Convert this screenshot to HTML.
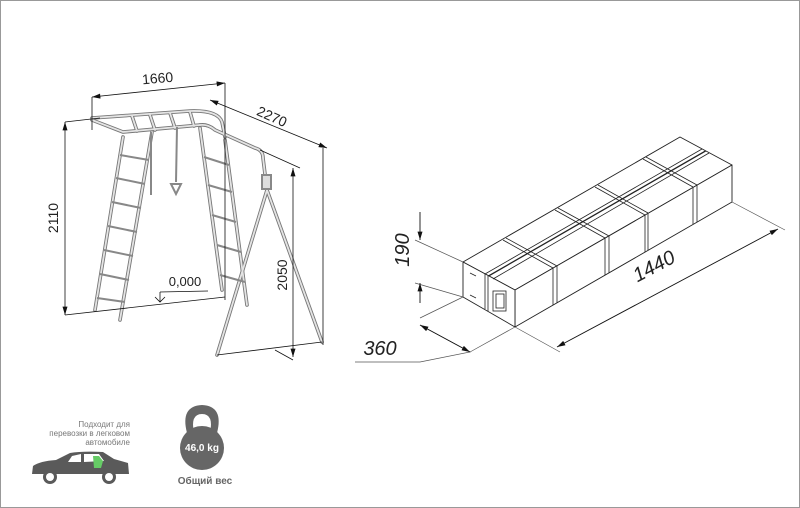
<!DOCTYPE html>
<html><head><meta charset="utf-8"><style>
html,body{margin:0;padding:0;background:#fff}
svg{display:block}
text{font-family:"Liberation Sans",sans-serif}
</style></head><body>
<svg width="800" height="508" viewBox="0 0 800 508" xmlns="http://www.w3.org/2000/svg">
<rect x="0.5" y="0.5" width="799" height="507" fill="#fff" stroke="#999"/>
<defs>
<marker id="ar" viewBox="0 0 10 6" refX="10" refY="3" markerWidth="9" markerHeight="5" orient="auto-start-reverse" markerUnits="userSpaceOnUse"><path d="M0,0L10,3L0,6z" fill="#111"/></marker>
</defs>

<!-- ===== Swing frame ===== -->
<g fill="none" stroke="#777" stroke-width="3.6" stroke-linecap="round">
 <path d="M92,118 L190,111 Q218,110 222,122 L225,137"/>
 <path d="M92,120 L123,132 L200,125"/>
 <path d="M132,116 L137,131 M150,115 L155,130 M170,113 L175,128 M190,112 L194,126"/>
 <path d="M200,125 Q208,124 215,130 L255,148 Q263,150 263,158 L267,190"/>
 <path d="M267,190 L217,355"/>
 <path d="M267,190 L322,342"/>
 <path d="M123,137 L95,310"/>
 <path d="M152,132 L120,320"/>
 <path d="M200,128 L222,290"/>
 <path d="M225,140 L247,305"/>
</g>
<g fill="none" stroke="#e4e4e4" stroke-width="1.8" stroke-linecap="round">
 <path d="M92,118 L190,111 Q218,110 222,122 L225,137"/>
 <path d="M92,120 L123,132 L200,125"/>
 <path d="M132,116 L137,131 M150,115 L155,130 M170,113 L175,128 M190,112 L194,126"/>
 <path d="M200,125 Q208,124 215,130 L255,148 Q263,150 263,158 L267,190"/>
 <path d="M267,190 L217,355"/><path d="M267,190 L322,342"/>
 <path d="M123,137 L95,310"/><path d="M152,132 L120,320"/>
 <path d="M200,128 L222,290"/><path d="M225,140 L247,305"/>
</g>
<g stroke="#888" stroke-width="2" fill="none">
 <path d="M120,155 L149,160 M116,178 L145,184 M112,202 L141,208 M108,226 L137,232 M104,250 L133,256 M100,274 L129,280 M97,298 L125,302"/>
 <path d="M204,157 L229,165 M208,185 L232,192 M212,215 L236,222 M217,245 L241,252 M220,275 L245,282"/>
 <path d="M151,132 L151,195 M177,127 L176,182"/>
 <path d="M171,184 L181,184 L176,194 Z"/>
 <rect x="262" y="175" width="9" height="14" fill="#ddd"/>
</g>

<!-- swing dimensions -->
<g stroke="#111" stroke-width="0.8" fill="none">
 <path d="M92,97 L92,130 M225,83 L225,300"/>
 <path d="M92,97 L225,83" marker-start="url(#ar)" marker-end="url(#ar)"/>
 <path d="M210,100 L327,148" marker-start="url(#ar)" marker-end="url(#ar)"/>
 <path d="M323,148 L323,345 M260,150 L300,168"/>
 <path d="M65,122 L100,118 M65,315 L225,297"/>
 <path d="M65,315 L65,122" marker-start="url(#ar)" marker-end="url(#ar)"/>
 <path d="M293,168 L293,357" marker-start="url(#ar)" marker-end="url(#ar)"/>
 <path d="M217,355 L322,342 M275,350 L293,360"/>
 <path d="M160,292 L208,291 M160,292 L160,302 M155,297 L160,302 L165,297"/>
</g>
<g fill="#222" font-size="14">
 <text x="158" y="83" text-anchor="middle" transform="rotate(-5 158 83)">1660</text>
 <text x="270" y="121" text-anchor="middle" transform="rotate(24 270 121)">2270</text>
 <text x="58" y="218" text-anchor="middle" transform="rotate(-90 58 218)">2110</text>
 <text x="287" y="275" text-anchor="middle" transform="rotate(-90 287 275)">2050</text>
 <text x="185" y="286" text-anchor="middle" font-size="13">0,000</text>
</g>

<!-- ===== Box ===== -->
<g stroke="#222" stroke-width="0.9" fill="#fff" stroke-linejoin="round">
 <path d="M463,262 L680,137 L732,165 L515,290 Z"/>
 <path d="M515,290 L732,165 L732,202 L515,327 Z"/>
 <path d="M463,262 L515,290 L515,327 L463,297 Z"/>
</g>
<g stroke="#222" stroke-width="0.8" fill="none">
 <path d="M485,274 L485,309 M488,276 L488,311"/>
 <path d="M485,274 L702,149 M488,276 L705,151"/>
 <path d="M489,276 L706,151 M493,279 L709,153"/>
 <path d="M553,268 L503,240 M557,266 L506,238 M553,268 L553,305 M557,266 L557,303"/>
 <path d="M605,238 L555,210 M609,236 L558,208 M605,238 L605,275 M609,236 L609,273"/>
 <path d="M645,215 L595,187 M648,213 L598,185 M645,215 L645,252 M648,213 L648,250"/>
 <path d="M693,187 L643,159 M697,185 L646,157 M693,187 L693,224 M697,185 L697,222"/>
 <rect x="493" y="291" width="13" height="20"/>
 <rect x="496" y="294" width="8" height="14"/>
 <path d="M470,273 L476,276 M470,295 L476,298"/>
</g>
<g stroke="#555" stroke-width="0.7" fill="none">
 <path d="M415,240 L463,262 M415,283 L463,297"/>
 <path d="M463,297 L420,318 M515,327 L470,352 M515,327 L560,352 M732,202 L785,230"/>
 <path d="M420,325 L470,352 L420,362 L355,362" />
</g>
<g stroke="#111" stroke-width="0.9" fill="none">
 <path d="M420,212 L420,240" marker-end="url(#ar)"/>
 <path d="M420,303 L420,283" marker-end="url(#ar)"/>
 <path d="M420,325 L470,352" marker-start="url(#ar)" marker-end="url(#ar)"/>
 <path d="M557,347 L778,229" marker-start="url(#ar)" marker-end="url(#ar)"/>
</g>
<g fill="#222" font-size="20" font-style="italic">
 <text x="409" y="250" text-anchor="middle" transform="rotate(-90 409 250)">190</text>
 <text x="380" y="355" text-anchor="middle">360</text>
 <text x="657" y="272" text-anchor="middle" transform="rotate(-28 657 272)">1440</text>
</g>

<!-- ===== Bottom icons ===== -->
<g fill="#777" font-size="8" text-anchor="end">
 <text x="130" y="427">Подходит для</text>
 <text x="130" y="436">перевозки в легковом</text>
 <text x="130" y="445">автомобиле</text>
</g>
<g fill="#5a5a5a">
 <path d="M32,474 L33,466 Q40,461 56,460 L70,453 Q82,451 103,452 L114,459 L128,463 L129,474 Z"/>
 <circle cx="50" cy="477" r="7"/><circle cx="109" cy="477" r="7"/>
</g>
<g fill="#fff">
 <circle cx="50" cy="477" r="4"/><circle cx="109" cy="477" r="4"/>
 <path d="M72,456 L81,454 L81,462 L68,462 Z M84,454 L99,454 L104,461 L84,462 Z"/>
</g>
<path d="M93,456 L99,456 L103,461 L101,468 L94,468 Z" fill="#6c6"/>
<g fill="#666">
 <path d="M187,433 Q180,406 202,405 Q224,406 217,433 L210,433 Q214,414 202,414 Q190,414 194,433 Z"/>
 <circle cx="202" cy="448" r="22"/>
</g>
<text x="202" y="451" font-size="10" font-weight="bold" fill="#fff" text-anchor="middle">46,0 kg</text>
<text x="205" y="484" font-size="10" font-weight="bold" fill="#666" text-anchor="middle">Общий вес</text>
</svg>
</body></html>
